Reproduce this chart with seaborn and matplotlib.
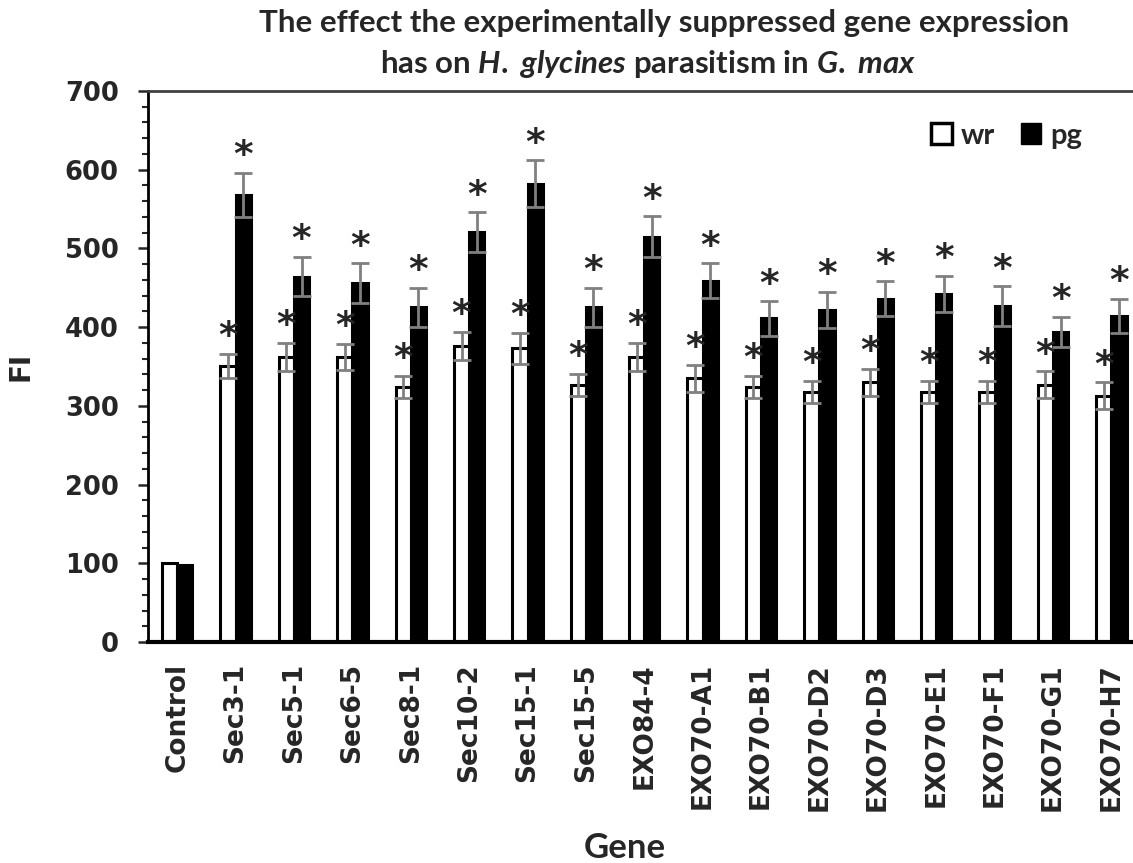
import numpy as np
import pandas as pd
import matplotlib
matplotlib.use('Agg')
import matplotlib.pyplot as plt
from matplotlib.patches import Patch
import seaborn as sns

# Dados
genes = ['Control', 'Sec3-1', 'Sec5-1', 'Sec6-5', 'Sec8-1', 'Sec10-2', 'Sec15-1',
         'Sec15-5', 'EXO84-4', 'EXO70-A1', 'EXO70-B1', 'EXO70-D2', 'EXO70-D3',
         'EXO70-E1', 'EXO70-F1', 'EXO70-G1', 'EXO70-H7']
wr = [100, 351, 362, 362, 324, 376, 373, 327, 362, 335, 324, 318, 330, 318, 318, 327, 313]
pg = [98, 568, 464, 456, 425, 521, 582, 425, 515, 459, 411, 422, 436, 442, 427, 394, 414]
wr_err = [0, 15, 18, 17, 14, 18, 20, 14, 18, 17, 14, 14, 17, 14, 14, 17, 17]
pg_err = [0, 28, 25, 25, 25, 25, 30, 25, 26, 22, 22, 23, 22, 23, 25, 19, 22]
significant = [False] + [True] * 16

df = pd.DataFrame({
    'Gene': genes * 2,
    'FI': wr + pg,
    'Treatment': ['wr'] * len(genes) + ['pg'] * len(genes),
})

sns.set_style('white')
plt.rcParams['font.family'] = ['DejaVu Sans']
plt.rcParams['mathtext.fontset'] = 'custom'
plt.rcParams['mathtext.it'] = 'Lato:style=italic:weight=bold'
plt.rcParams['mathtext.rm'] = 'Lato:weight=bold'

fig = plt.figure(figsize=(11.33, 8.63), dpi=100)
ax = fig.add_axes([0.1306, 0.256, 0.8694, 0.6386])

sns.barplot(data=df, x='Gene', y='FI', hue='Treatment', order=genes, hue_order=['wr', 'pg'],
            palette={'wr': 'white', 'pg': 'black'}, edgecolor='black', linewidth=2.2,
            width=0.52, errorbar=None, legend=False, ax=ax)

# Barras de erro e asteriscos
for container, errs in zip(ax.containers, [wr_err, pg_err]):
    for patch, e, sig in zip(container, errs, significant):
        xc = patch.get_x() + patch.get_width() / 2
        h = patch.get_height()
        if e > 0:
            ax.errorbar(xc, h, yerr=e, fmt='none', ecolor='#808080', elinewidth=2,
                        capsize=6.5, capthick=2, zorder=5)
        if sig:
            ax.annotate('*', xy=(xc, h + e), xytext=(0, -1), textcoords='offset points',
                        ha='center', va='bottom', fontsize=27, fontweight='bold')

ax.set_ylim(0, 700)
ax.set_xlim(-0.5, 16.37)
ax.set_yticks(range(0, 701, 100))
ax.yaxis.set_minor_locator(matplotlib.ticker.MultipleLocator(20))
ax.tick_params(axis='y', which='major', direction='out', length=7, width=1.8, pad=14,
               labelsize=18.5, left=True)
ax.tick_params(axis='y', which='minor', direction='out', length=4, width=1.5, left=True)
ax.tick_params(axis='x', length=0, pad=15, labelsize=19)
for lab in ax.get_yticklabels():
    lab.set_fontweight('bold')
for lab in ax.get_xticklabels():
    lab.set_fontweight('bold')
    lab.set_rotation(90)

ax.spines['left'].set_linewidth(2)
ax.spines['left'].set_color('black')
ax.spines['bottom'].set_linewidth(3)
ax.spines['bottom'].set_color('black')
ax.spines['top'].set_linewidth(2)
ax.spines['top'].set_color('#404040')
ax.spines['right'].set_visible(False)

ax.set_ylabel('FI', fontsize=20, fontweight='bold', labelpad=22)
ax.set_xlabel('Gene', fontsize=25, fontfamily='Lato', fontweight='bold', va='center')
ax.xaxis.set_label_coords(0.484, -0.373)

handles = [Patch(facecolor='white', edgecolor='black', linewidth=2.5, label='wr'),
           Patch(facecolor='black', edgecolor='black', label='pg')]
ax.legend(handles=handles, loc='upper right', bbox_to_anchor=(0.975, 0.99), ncol=2,
          frameon=False, handlelength=0.7, handleheight=0.7, handletextpad=0.3,
          columnspacing=0.9, prop={'family': 'Lato', 'weight': 'bold', 'size': 21})

fig.text(0.586, 0.973, 'The effect the experimentally suppressed gene expression',
         ha='center', va='center', fontsize=22.5, fontfamily='Lato', fontweight='bold')
fig.text(0.572, 0.926, r'has on $\it{H.}$ $\it{glycines}$ parasitism in $\it{G.}$ $\it{max}$',
         ha='center', va='center', fontsize=22.5, fontfamily='Lato', fontweight='bold')

fig.savefig('out.png', dpi=100)
